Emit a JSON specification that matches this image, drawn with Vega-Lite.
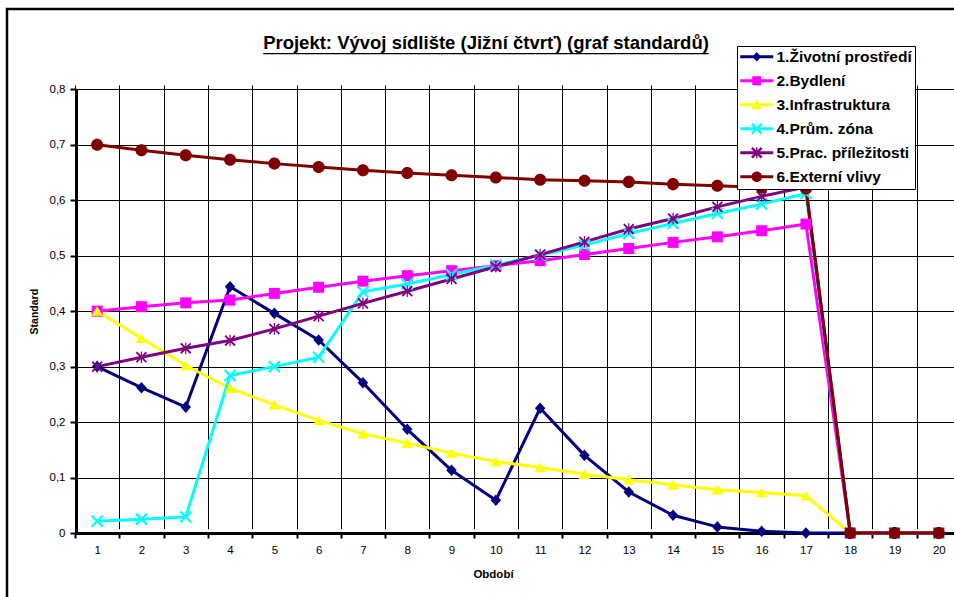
{
  "$schema": "https://vega.github.io/schema/vega-lite/v6.json",
  "autosize": "none",
  "width": 954,
  "height": 600,
  "padding": {"left": 7, "top": 9, "right": 0, "bottom": 0},
  "background": "white",
  "title": {
    "text": "Projekt: Vývoj sídlište (Jižní čtvrť) (graf standardů)",
    "subtitle": "________________________________________",
    "font": "Liberation Sans",
    "fontSize": 18.5,
    "fontWeight": "bold",
    "color": "#000",
    "subtitleFont": "Liberation Sans",
    "subtitleFontSize": 20,
    "subtitleColor": "#000",
    "subtitlePadding": -18,
    "anchor": "middle",
    "frame": "group",
    "baseline": "middle",
    "offset": 0,
    "dx": 2,
    "dy": 54
  },
  "data": {
    "values": [
      {"p": 1, "s": "1.Životní prostředí", "v": 0.300},
      {"p": 2, "s": "1.Životní prostředí", "v": 0.262},
      {"p": 3, "s": "1.Životní prostředí", "v": 0.227},
      {"p": 4, "s": "1.Životní prostředí", "v": 0.444},
      {"p": 5, "s": "1.Životní prostředí", "v": 0.396},
      {"p": 6, "s": "1.Životní prostředí", "v": 0.348},
      {"p": 7, "s": "1.Životní prostředí", "v": 0.271},
      {"p": 8, "s": "1.Životní prostředí", "v": 0.187},
      {"p": 9, "s": "1.Životní prostředí", "v": 0.113},
      {"p": 10, "s": "1.Životní prostředí", "v": 0.059},
      {"p": 11, "s": "1.Životní prostředí", "v": 0.225},
      {"p": 12, "s": "1.Životní prostředí", "v": 0.140},
      {"p": 13, "s": "1.Životní prostředí", "v": 0.074},
      {"p": 14, "s": "1.Životní prostředí", "v": 0.032},
      {"p": 15, "s": "1.Životní prostředí", "v": 0.011},
      {"p": 16, "s": "1.Životní prostředí", "v": 0.003},
      {"p": 17, "s": "1.Životní prostředí", "v": 0.0},
      {"p": 18, "s": "1.Životní prostředí", "v": 0.0},
      {"p": 19, "s": "1.Životní prostředí", "v": 0.0},
      {"p": 20, "s": "1.Životní prostředí", "v": 0.0},
      {"p": 1, "s": "2.Bydlení", "v": 0.400},
      {"p": 2, "s": "2.Bydlení", "v": 0.408},
      {"p": 3, "s": "2.Bydlení", "v": 0.415},
      {"p": 4, "s": "2.Bydlení", "v": 0.420},
      {"p": 5, "s": "2.Bydlení", "v": 0.432},
      {"p": 6, "s": "2.Bydlení", "v": 0.443},
      {"p": 7, "s": "2.Bydlení", "v": 0.454},
      {"p": 8, "s": "2.Bydlení", "v": 0.464},
      {"p": 9, "s": "2.Bydlení", "v": 0.473},
      {"p": 10, "s": "2.Bydlení", "v": 0.482},
      {"p": 11, "s": "2.Bydlení", "v": 0.491},
      {"p": 12, "s": "2.Bydlení", "v": 0.502},
      {"p": 13, "s": "2.Bydlení", "v": 0.513},
      {"p": 14, "s": "2.Bydlení", "v": 0.524},
      {"p": 15, "s": "2.Bydlení", "v": 0.534},
      {"p": 16, "s": "2.Bydlení", "v": 0.545},
      {"p": 17, "s": "2.Bydlení", "v": 0.557},
      {"p": 18, "s": "2.Bydlení", "v": 0.0},
      {"p": 19, "s": "2.Bydlení", "v": 0.0},
      {"p": 20, "s": "2.Bydlení", "v": 0.0},
      {"p": 1, "s": "3.Infrastruktura", "v": 0.400},
      {"p": 2, "s": "3.Infrastruktura", "v": 0.351},
      {"p": 3, "s": "3.Infrastruktura", "v": 0.302},
      {"p": 4, "s": "3.Infrastruktura", "v": 0.261},
      {"p": 5, "s": "3.Infrastruktura", "v": 0.231},
      {"p": 6, "s": "3.Infrastruktura", "v": 0.203},
      {"p": 7, "s": "3.Infrastruktura", "v": 0.179},
      {"p": 8, "s": "3.Infrastruktura", "v": 0.162},
      {"p": 9, "s": "3.Infrastruktura", "v": 0.144},
      {"p": 10, "s": "3.Infrastruktura", "v": 0.129},
      {"p": 11, "s": "3.Infrastruktura", "v": 0.118},
      {"p": 12, "s": "3.Infrastruktura", "v": 0.106},
      {"p": 13, "s": "3.Infrastruktura", "v": 0.096},
      {"p": 14, "s": "3.Infrastruktura", "v": 0.087},
      {"p": 15, "s": "3.Infrastruktura", "v": 0.078},
      {"p": 16, "s": "3.Infrastruktura", "v": 0.073},
      {"p": 17, "s": "3.Infrastruktura", "v": 0.067},
      {"p": 18, "s": "3.Infrastruktura", "v": 0.0},
      {"p": 19, "s": "3.Infrastruktura", "v": 0.0},
      {"p": 20, "s": "3.Infrastruktura", "v": 0.0},
      {"p": 1, "s": "4.Prům. zóna", "v": 0.021},
      {"p": 2, "s": "4.Prům. zóna", "v": 0.025},
      {"p": 3, "s": "4.Prům. zóna", "v": 0.029},
      {"p": 4, "s": "4.Prům. zóna", "v": 0.284},
      {"p": 5, "s": "4.Prům. zóna", "v": 0.300},
      {"p": 6, "s": "4.Prům. zóna", "v": 0.317},
      {"p": 7, "s": "4.Prům. zóna", "v": 0.435},
      {"p": 8, "s": "4.Prům. zóna", "v": 0.449},
      {"p": 9, "s": "4.Prům. zóna", "v": 0.466},
      {"p": 10, "s": "4.Prům. zóna", "v": 0.483},
      {"p": 11, "s": "4.Prům. zóna", "v": 0.501},
      {"p": 12, "s": "4.Prům. zóna", "v": 0.519},
      {"p": 13, "s": "4.Prům. zóna", "v": 0.540},
      {"p": 14, "s": "4.Prům. zóna", "v": 0.558},
      {"p": 15, "s": "4.Prům. zóna", "v": 0.576},
      {"p": 16, "s": "4.Prům. zóna", "v": 0.593},
      {"p": 17, "s": "4.Prům. zóna", "v": 0.612},
      {"p": 18, "s": "4.Prům. zóna", "v": 0.0},
      {"p": 19, "s": "4.Prům. zóna", "v": 0.0},
      {"p": 20, "s": "4.Prům. zóna", "v": 0.0},
      {"p": 1, "s": "5.Prac. příležitosti", "v": 0.300},
      {"p": 2, "s": "5.Prac. příležitosti", "v": 0.317},
      {"p": 3, "s": "5.Prac. příležitosti", "v": 0.333},
      {"p": 4, "s": "5.Prac. příležitosti", "v": 0.347},
      {"p": 5, "s": "5.Prac. příležitosti", "v": 0.368},
      {"p": 6, "s": "5.Prac. příležitosti", "v": 0.391},
      {"p": 7, "s": "5.Prac. příležitosti", "v": 0.414},
      {"p": 8, "s": "5.Prac. příležitosti", "v": 0.436},
      {"p": 9, "s": "5.Prac. příležitosti", "v": 0.458},
      {"p": 10, "s": "5.Prac. příležitosti", "v": 0.480},
      {"p": 11, "s": "5.Prac. příležitosti", "v": 0.502},
      {"p": 12, "s": "5.Prac. příležitosti", "v": 0.525},
      {"p": 13, "s": "5.Prac. příležitosti", "v": 0.548},
      {"p": 14, "s": "5.Prac. příležitosti", "v": 0.567},
      {"p": 15, "s": "5.Prac. příležitosti", "v": 0.588},
      {"p": 16, "s": "5.Prac. příležitosti", "v": 0.607},
      {"p": 17, "s": "5.Prac. příležitosti", "v": 0.624},
      {"p": 18, "s": "5.Prac. příležitosti", "v": 0.0},
      {"p": 19, "s": "5.Prac. příležitosti", "v": 0.0},
      {"p": 20, "s": "5.Prac. příležitosti", "v": 0.0},
      {"p": 1, "s": "6.Externí vlivy", "v": 0.700},
      {"p": 2, "s": "6.Externí vlivy", "v": 0.690},
      {"p": 3, "s": "6.Externí vlivy", "v": 0.681},
      {"p": 4, "s": "6.Externí vlivy", "v": 0.673},
      {"p": 5, "s": "6.Externí vlivy", "v": 0.666},
      {"p": 6, "s": "6.Externí vlivy", "v": 0.660},
      {"p": 7, "s": "6.Externí vlivy", "v": 0.654},
      {"p": 8, "s": "6.Externí vlivy", "v": 0.649},
      {"p": 9, "s": "6.Externí vlivy", "v": 0.645},
      {"p": 10, "s": "6.Externí vlivy", "v": 0.641},
      {"p": 11, "s": "6.Externí vlivy", "v": 0.637},
      {"p": 12, "s": "6.Externí vlivy", "v": 0.635},
      {"p": 13, "s": "6.Externí vlivy", "v": 0.633},
      {"p": 14, "s": "6.Externí vlivy", "v": 0.629},
      {"p": 15, "s": "6.Externí vlivy", "v": 0.626},
      {"p": 16, "s": "6.Externí vlivy", "v": 0.623},
      {"p": 17, "s": "6.Externí vlivy", "v": 0.621},
      {"p": 18, "s": "6.Externí vlivy", "v": 0.0},
      {"p": 19, "s": "6.Externí vlivy", "v": 0.0},
      {"p": 20, "s": "6.Externí vlivy", "v": 0.0}
    ]
  },
  "encoding": {
    "x": {
      "field": "p",
      "type": "ordinal",
      "scale": {
        "type": "band",
        "domain": [1, 2, 3, 4, 5, 6, 7, 8, 9, 10, 11, 12, 13, 14, 15, 16, 17, 18, 19, 20],
        "range": [68, 954],
        "paddingInner": 0,
        "paddingOuter": 0
      },
      "axis": {
        "title": "Období",
        "orient": "bottom",
        "offset": -76,
        "tickBand": "extent",
        "labelAngle": 0,
        "labelFont": "Liberation Sans",
        "labelFontSize": 11.5,
        "labelColor": "#000",
        "labelPadding": 6,
        "tickSize": 5,
        "tickWidth": 2,
        "tickColor": "#000",
        "domainColor": "#000",
        "domainWidth": 3,
        "grid": true,
        "gridColor": "#000",
        "gridWidth": 1,
        "gridOpacity": 1,
        "titleFont": "Liberation Sans",
        "titleFontSize": 11.5,
        "titleFontWeight": "bold",
        "titleColor": "#000",
        "titlePadding": 13,
        "titleX": 486
      }
    },
    "y": {
      "field": "v",
      "type": "quantitative",
      "scale": {"domain": [0, 0.8], "range": [524, 80.3], "nice": false, "zero": false},
      "axis": {
        "title": "Standard",
        "orient": "left",
        "offset": -69,
        "values": [0, 0.1, 0.2, 0.3, 0.4, 0.5, 0.6, 0.7, 0.8],
        "labelExpr": "datum.value == 0 ? '0' : replace(format(datum.value, '.1f'), '.', ',')",
        "labelFont": "Liberation Sans",
        "labelFontSize": 11.5,
        "labelColor": "#000",
        "labelPadding": 5,
        "tickSize": 6,
        "tickWidth": 2,
        "tickColor": "#000",
        "domainColor": "#000",
        "domainWidth": 3,
        "grid": true,
        "gridColor": "#000",
        "gridWidth": 1,
        "gridOpacity": 1,
        "titleFont": "Liberation Sans",
        "titleFontSize": 10.5,
        "titleFontWeight": "bold",
        "titleColor": "#000",
        "titlePadding": 10
      }
    }
  },
  "layer": [
    {
      "mark": {"type": "line", "strokeWidth": 3, "strokeJoin": "round"},
      "encoding": {
        "color": {
          "field": "s",
          "type": "nominal",
          "scale": {
            "domain": ["1.Životní prostředí", "2.Bydlení", "3.Infrastruktura", "4.Prům. zóna", "5.Prac. příležitosti", "6.Externí vlivy"],
            "range": ["#000080", "#FF00FF", "#FFFF00", "#00FFFF", "#800080", "#800000"]
          },
          "legend": null
        }
      }
    },
    {
      "mark": {"type": "point", "filled": true, "opacity": 1, "size": 121, "strokeWidth": 0},
      "encoding": {
        "color": {
          "field": "s",
          "type": "nominal",
          "scale": {
            "domain": ["1.Životní prostředí", "2.Bydlení", "3.Infrastruktura", "4.Prům. zóna", "5.Prac. příležitosti", "6.Externí vlivy"],
            "range": ["#000080", "#FF00FF", "#FFFF00", "#00FFFF", "#800080", "#800000"]
          },
          "legend": null
        },
        "shape": {
          "field": "s",
          "type": "nominal",
          "scale": {
            "domain": ["1.Životní prostředí", "2.Bydlení", "3.Infrastruktura", "4.Prům. zóna", "5.Prac. příležitosti", "6.Externí vlivy"],
            "range": [
              "M0,-1.05L0.95,0L0,1.05L-0.95,0Z",
              "M-1,-1L1,-1L1,1L-1,1Z",
              "M0,-0.9L1.05,0.85L-1.05,0.85Z",
              "M-1.14,-0.86L0.86,1.14L1.14,0.86L-0.86,-1.14ZM-0.86,1.14L1.14,-0.86L0.86,-1.14L-1.14,0.86Z",
              "M-1.02,-0.78L0.78,1.02L1.02,0.78L-0.78,-1.02ZM-0.78,1.02L1.02,-0.78L0.78,-1.02L-1.02,0.78ZM-0.11,-1.05L-0.11,1.05L0.11,1.05L0.11,-1.05Z",
              "M-1.1,0A1.1,1.1 0 1,0 1.1,0A1.1,1.1 0 1,0 -1.1,0Z"
            ]
          },
          "legend": null
        }
      }
    },
    {
      "transform": [{"filter": "false"}],
      "mark": {"type": "point", "filled": true, "opacity": 1, "strokeWidth": 0},
      "encoding": {
        "color": {
          "field": "s",
          "type": "nominal",
          "scale": {
            "domain": ["1.Životní prostředí", "2.Bydlení", "3.Infrastruktura", "4.Prům. zóna", "5.Prac. příležitosti", "6.Externí vlivy"],
            "range": ["#000080", "#FF00FF", "#FFFF00", "#00FFFF", "#800080", "#800000"]
          },
          "legend": {
            "orient": "none",
            "legendX": 730,
            "legendY": 37,
            "title": null,
            "symbolSize": 225,
            "symbolStrokeWidth": 0,
            "symbolOpacity": 1,
            "labelFont": "Liberation Sans",
            "labelFontSize": 15.5,
            "labelFontWeight": "bold",
            "labelColor": "#000",
            "labelOffset": 21,
            "labelLimit": 400,
            "rowPadding": 7,
            "padding": 3,
            "strokeColor": "#000",
            "fillColor": "#fff"
          }
        },
        "shape": {
          "field": "s",
          "type": "nominal",
          "scale": {
            "domain": ["1.Životní prostředí", "2.Bydlení", "3.Infrastruktura", "4.Prům. zóna", "5.Prac. příležitosti", "6.Externí vlivy"],
            "range": [
              "M-1,-0.2L-1,0.2L3.4,0.2L3.4,-0.2ZM1.2,-0.62L0.6,0L1.2,0.62L1.8,0Z",
              "M-1,-0.2L-1,0.2L3.4,0.2L3.4,-0.2ZM0.6,-0.6L0.6,0.6L1.8,0.6L1.8,-0.6Z",
              "M-1,-0.2L-1,0.2L3.4,0.2L3.4,-0.2ZM1.2,-0.7L0.5,0.55L1.9,0.55Z",
              "M-1,-0.2L-1,0.2L3.4,0.2L3.4,-0.2ZM0.43,-0.53L1.73,0.77L1.97,0.53L0.67,-0.77ZM0.67,0.77L1.97,-0.53L1.73,-0.77L0.43,0.53Z",
              "M-1,-0.2L-1,0.2L3.4,0.2L3.4,-0.2ZM0.43,-0.53L1.73,0.77L1.97,0.53L0.67,-0.77ZM0.67,0.77L1.97,-0.53L1.73,-0.77L0.43,0.53ZM1.11,-0.72L1.11,0.72L1.29,0.72L1.29,-0.72Z",
              "M-1,-0.2L-1,0.2L3.4,0.2L3.4,-0.2ZM0.5,0A0.7,0.7 0 1,0 1.9,0A0.7,0.7 0 1,0 0.5,0Z"
            ]
          },
          "legend": {
            "orient": "none",
            "legendX": 730,
            "legendY": 37,
            "title": null,
            "symbolSize": 225,
            "symbolStrokeWidth": 0,
            "symbolOpacity": 1,
            "labelFont": "Liberation Sans",
            "labelFontSize": 15.5,
            "labelFontWeight": "bold",
            "labelColor": "#000",
            "labelOffset": 21,
            "labelLimit": 400,
            "rowPadding": 7,
            "padding": 3,
            "strokeColor": "#000",
            "fillColor": "#fff"
          }
        }
      }
    }
  ],
  "resolve": {"scale": {"color": "independent", "shape": "independent"}},
  "config": {
    "font": "Liberation Sans",
    "view": {"stroke": "#000", "strokeWidth": 2.5}
  }
}
